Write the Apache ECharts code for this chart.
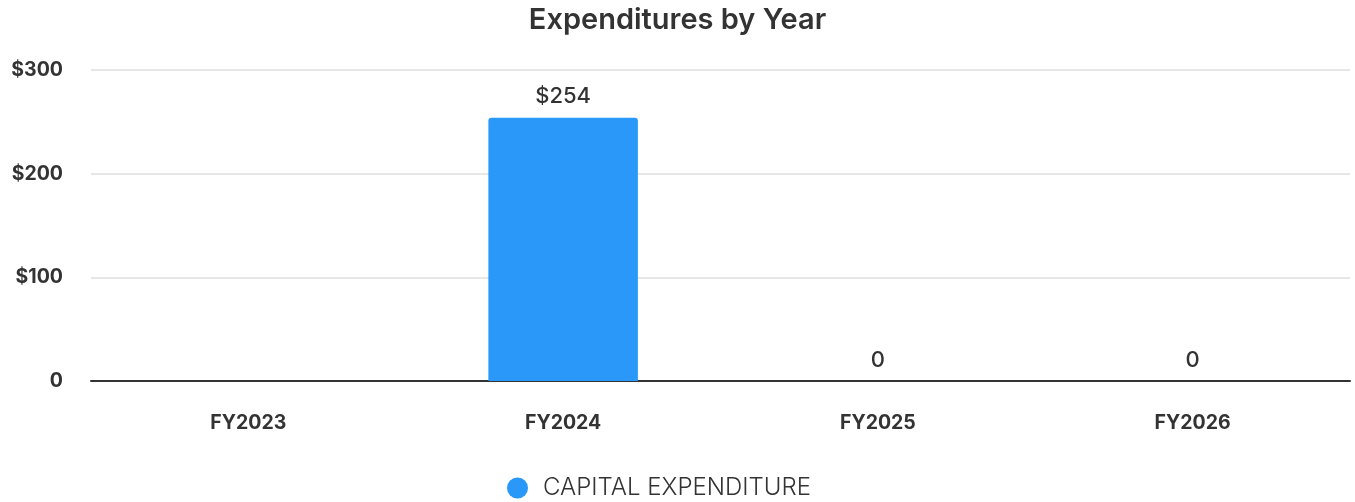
<!DOCTYPE html>
<html>
<head>
<meta charset="utf-8">
<script src="https://cdn.jsdelivr.net/npm/echarts@6/dist/echarts.min.js"></script>
<style>
  html, body { margin: 0; padding: 0; background: #fff; }
  #chart { width: 1355px; height: 502px; }
</style>
</head>
<body>
<div id="chart"></div>
<script>
  // data
  const years = ['FY2023', 'FY2024', 'FY2025', 'FY2026']
  const capitalExpenditure = [null, 254, 0, 0]
  const yTicks = { min: 0, max: 300, interval: 100 }

  const money = v => (v === 0 ? '0' : '$' + v)
  const font = 'Inter, "Open Sans", sans-serif'

  const chart = echarts.init(document.getElementById('chart'))
  chart.setOption({
    animation: false,
    textStyle: { fontFamily: font },
    title: {
      text: 'Expenditures by Year',
      left: 'center',
      top: 1,
      textStyle: { fontFamily: font, fontSize: 29, fontWeight: 600, color: '#333' }
    },
    legend: {
      top: 476,
      padding: 0,
      left: 507,
      icon: 'circle',
      itemWidth: 21,
      itemHeight: 21,
      textStyle: { fontFamily: font, fontSize: 24, fontWeight: 300, color: '#333', padding: [0, 0, 0, 10] }
    },
    grid: { left: 91, right: 5, top: 70, bottom: 121 },
    xAxis: {
      type: 'category',
      data: years,
      axisLine: { lineStyle: { color: '#333', width: 2 } },
      axisTick: { show: false },
      axisLabel: { margin: 32, fontFamily: font, fontSize: 19.5, fontWeight: 700, color: '#333' }
    },
    yAxis: {
      type: 'value',
      min: yTicks.min,
      max: yTicks.max,
      interval: yTicks.interval,
      splitLine: { lineStyle: { color: '#e6e6e6', width: 2 } },
      axisLabel: {
        margin: 28,
        fontFamily: font,
        fontSize: 19.5,
        fontWeight: 700,
        color: '#333',
        formatter: money
      }
    },
    series: [{
      name: 'CAPITAL EXPENDITURE',
      type: 'bar',
      data: capitalExpenditure,
      barWidth: '47.5%',
      itemStyle: { color: '#2998f8', borderRadius: [3, 3, 0, 0] },
      label: {
        show: true,
        position: 'top',
        distance: 10,
        fontFamily: font,
        fontSize: 22,
        fontWeight: 500,
        color: '#333',
        formatter: p => money(p.value)
      }
    }]
  })
</script>
</body>
</html>
